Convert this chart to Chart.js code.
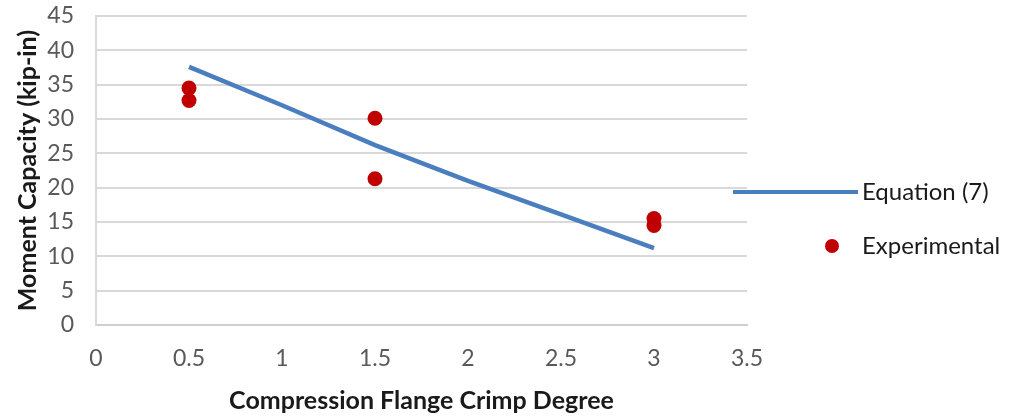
<!DOCTYPE html>
<html>
<head>
<meta charset="utf-8">
<script src="https://cdn.jsdelivr.net/npm/chart.js@4.4.1/dist/chart.umd.min.js"></script>
<style>
  html, body { margin: 0; padding: 0; background: #fff; }
  #wrap { position: relative; width: 1015px; height: 418px; }
</style>
</head>
<body>
<div id="wrap"><canvas id="grafico" width="1015" height="418"></canvas></div>
<script>
// dados
const equacaoX = [0.5, 1, 1.5, 2, 2.5, 3];
const equacaoY = [37.6, 32.0, 26.2, 21.0, 16.1, 11.2];
const experimentalX = [0.5, 0.5, 1.5, 1.5, 3, 3];
const experimentalY = [34.5, 32.7, 30.1, 21.3, 15.5, 14.5];
const xTicks = [0, 0.5, 1, 1.5, 2, 2.5, 3, 3.5];
const yTicks = [0, 5, 10, 15, 20, 25, 30, 35, 40, 45];
const nomes = ['Equation (7)', 'Experimental'];

const fonte = 'Lato, "Open Sans", sans-serif';

// legenda desenhada à direita, como no Excel
const legendaDireita = {
    id: 'legendaDireita',
    afterDraw(chart) {
        const ctx = chart.ctx;
        const dsLinha = chart.data.datasets[0];
        const dsPontos = chart.data.datasets[1];
        ctx.save();
        ctx.font = '24px ' + fonte;
        ctx.fillStyle = '#1a1a1a';
        ctx.textBaseline = 'middle';
        ctx.textAlign = 'left';

        ctx.strokeStyle = dsLinha.borderColor;
        ctx.lineWidth = 4;
        ctx.beginPath();
        ctx.moveTo(733, 192);
        ctx.lineTo(858, 192);
        ctx.stroke();
        ctx.fillText(dsLinha.label, 862, 192);

        ctx.fillStyle = dsPontos.backgroundColor;
        ctx.beginPath();
        ctx.arc(832, 246, 7, 0, Math.PI * 2);
        ctx.fill();
        ctx.fillStyle = '#1a1a1a';
        ctx.fillText(dsPontos.label, 862, 246);
        ctx.restore();
    }
};

const ctxGrafico = document.getElementById('grafico');
new Chart(ctxGrafico, {
    type: 'scatter',
    data: {
        datasets: [{
            label: nomes[0],
            data: equacaoX.map((x, i) => ({ x: x, y: equacaoY[i] })),
            showLine: true,
            borderColor: '#4a7ebf',
            backgroundColor: '#4a7ebf',
            borderWidth: 4.5,
            pointRadius: 0,
            tension: 0
        }, {
            label: nomes[1],
            data: experimentalX.map((x, i) => ({ x: x, y: experimentalY[i] })),
            showLine: false,
            backgroundColor: '#c00000',
            borderColor: '#c00000',
            pointRadius: 7.5,
            borderWidth: 0
        }]
    },
    options: {
        responsive: false,
        animation: false,
        layout: { padding: { top: 16, right: 268, left: 0, bottom: 0 } },
        plugins: {
            legend: { display: false },
            tooltip: { enabled: false }
        },
        scales: {
            x: {
                type: 'linear',
                min: 0,
                max: 3.5,
                afterBuildTicks: (s) => { s.ticks = xTicks.map(v => ({ value: v })); },
                afterFit: (s) => { s.height = 93; s.paddingLeft = 0; s.paddingRight = 0; },
                grid: { display: false, drawTicks: false },
                border: { display: true, color: '#cfcfcf', width: 2 },
                ticks: {
                    color: '#595959',
                    font: { family: fonte, size: 23 },
                    padding: 20,
                    callback: (v) => String(v)
                },
                title: {
                    display: true,
                    text: 'Compression Flange Crimp Degree',
                    color: '#1a1a1a',
                    font: { family: fonte, size: 25, weight: 'bold' },
                    padding: { top: 10, bottom: 2 }
                }
            },
            y: {
                min: 0,
                max: 45,
                afterBuildTicks: (s) => { s.ticks = yTicks.map(v => ({ value: v })); },
                afterFit: (s) => { s.width = 96; s.paddingTop = 0; s.paddingBottom = 0; },
                grid: { color: '#d9d9d9', lineWidth: 2, drawTicks: false },
                border: { display: true, color: '#d9d9d9', width: 2 },
                ticks: {
                    color: '#595959',
                    font: { family: fonte, size: 23 },
                    padding: 22
                },
                title: {
                    display: true,
                    text: 'Moment Capacity (kip-in)',
                    color: '#1a1a1a',
                    font: { family: fonte, size: 25, weight: 'bold' },
                    padding: { top: 13, bottom: 0 }
                }
            }
        }
    },
    plugins: [legendaDireita]
});
</script>
</body>
</html>
